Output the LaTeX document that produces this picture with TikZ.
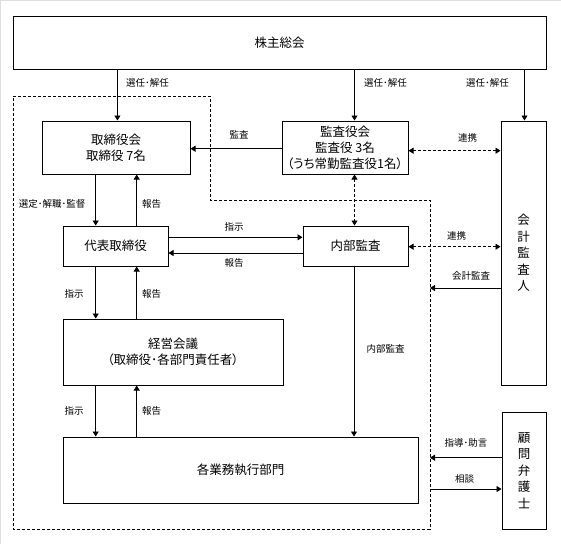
\documentclass[tikz,border=0pt]{standalone}
\usepackage{fontspec}
\setmainfont{Noto Sans CJK JP}[RawFeature=+palt]
\usetikzlibrary{arrows.meta}
\begin{document}
\begin{tikzpicture}[x=1pt,y=-1pt,
  box/.style={draw, line width=1pt, inner sep=0pt, font=\fontsize{12.5}{16}\selectfont, align=center},
  vbox/.style={box, font=\fontsize{12.5}{16.5}\selectfont},
  lbl/.style={font=\fontsize{9.5}{11}\selectfont, inner sep=0pt},
  arr/.style={line width=0.8pt, -{Triangle[length=5pt,width=6pt]}},
  darr/.style={line width=0.8pt, dash pattern=on 3pt off 2pt, {Triangle[length=5pt,width=6pt]}-{Triangle[length=5pt,width=6pt]}},
  region/.style={line width=0.8pt, dash pattern=on 3pt off 2pt},
]
\useasboundingbox (0,0) rectangle (561,544);
\fill[white] (0,0) rectangle (561,544);
\draw[gray!25, line width=2pt] (0,544) -- (0,0) -- (561,0);

% dashed region (execution side)
\coordinate (r1) at (13,96);
\coordinate (r2) at (210,96);
\coordinate (r3) at (210,200);
\coordinate (r4) at (430,200);
\coordinate (r5) at (430,529);
\coordinate (r6) at (13,529);
\draw[region] (r1) -- (r2) -- (r3) -- (r4) -- (r5) -- (r6) -- cycle;

% boxes
\node[box, minimum width=533, minimum height=53] (sh) at (279.5,42.5) {株主総会};
\node[box, minimum width=148, minimum height=53] (tor) at (116,147.5) {取締役会\\取締役 7名};
\node[box, minimum width=126, minimum height=53] (kan) at (345,147.5) {監査役会\\監査役 3名\\（うち常勤監査役1名）};
\node[vbox, minimum width=45, minimum height=264] (kai) at (523.5,253) {会\\計\\監\\査\\人};
\node[box, minimum width=105, minimum height=40] (dai) at (115.5,246) {代表取締役};
\node[box, minimum width=105, minimum height=40] (nai) at (355.5,246) {内部監査};
\node[box, minimum width=220, minimum height=66] (kei) at (173,352) {経営会議\\（取締役･各部門責任者）};
\node[box, minimum width=355, minimum height=66] (gyo) at (240.5,470) {各業務執行部門};
\node[vbox, minimum width=44, minimum height=117] (kom) at (524,470.5) {顧\\問\\弁\\護\\士};

% x positions of vertical connectors
\coordinate (xa) at (117.4,0);
\coordinate (xb) at (354.5,0);
\coordinate (xc) at (524.5,0);
\coordinate (xl) at (95.7,0);
\coordinate (xr) at (136.7,0);
\coordinate (xn) at (354,0);
% y positions of horizontal connectors
\coordinate (y1) at (0,148.7);
\coordinate (y2) at (0,150.7);
\coordinate (y3) at (0,237.3);
\coordinate (y4) at (0,253);
\coordinate (y5) at (0,246.7);
\coordinate (y6) at (0,288);
\coordinate (y7) at (0,457.7);
\coordinate (y8) at (0,489);

% shareholders meeting
\draw[arr] (xa |- sh.south) -- (xa |- tor.north);
\draw[arr] (xb |- sh.south) -- (xb |- kan.north);
\draw[arr] (xc |- sh.south) -- (xc |- kai.north);
\node[lbl] at (147.5,83) {選任･解任};
\node[lbl] at (385.5,83) {選任･解任};
\node[lbl] at (487.5,83) {選任･解任};

% audit
\draw[arr] (kan.west |- y1) -- (tor.east |- y1);
\node[lbl] at (239,135) {監査};
\draw[darr] (kan.east |- y2) -- (kai.west |- y2);
\node[lbl] at (467.5,138) {連携};
\draw[darr] (xb |- kan.south) -- (xb |- nai.north);

% board <-> representative
\draw[arr] (xl |- tor.south) -- (xl |- dai.north);
\draw[arr] (xr |- dai.north) -- (xr |- tor.south);
\node[lbl] at (52,204) {選定･解職･監督};
\node[lbl] at (151.5,204) {報告};

% representative <-> internal audit
\draw[arr] (dai.east |- y3) -- (nai.west |- y3);
\draw[arr] (nai.west |- y4) -- (dai.east |- y4);
\node[lbl] at (234,227) {指示};
\node[lbl] at (234,263) {報告};

% internal audit <-> accounting auditor
\draw[darr] (nai.east |- y5) -- (kai.west |- y5);
\node[lbl] at (456.5,236) {連携};
\draw[arr] (kai.west |- y6) -- (r4 |- y6);
\node[lbl] at (471,276) {会計監査};

% representative <-> management meeting
\draw[arr] (xl |- dai.south) -- (xl |- kei.north);
\draw[arr] (xr |- kei.north) -- (xr |- dai.south);
\node[lbl] at (74,294) {指示};
\node[lbl] at (151.5,294) {報告};

% management meeting <-> departments
\draw[arr] (xl |- kei.south) -- (xl |- gyo.north);
\draw[arr] (xr |- gyo.north) -- (xr |- kei.south);
\node[lbl] at (74,411) {指示};
\node[lbl] at (151.5,411) {報告};

% internal audit -> departments
\draw[arr] (xn |- nai.south) -- (xn |- gyo.north);
\node[lbl] at (385.5,349) {内部監査};

% legal advisor
\draw[arr] (kom.west |- y7) -- (r5 |- y7);
\node[lbl] at (466,443) {指導･助言};
\draw[arr] (r5 |- y8) -- (kom.west |- y8);
\node[lbl] at (464.5,479) {相談};
\end{tikzpicture}
\end{document}
